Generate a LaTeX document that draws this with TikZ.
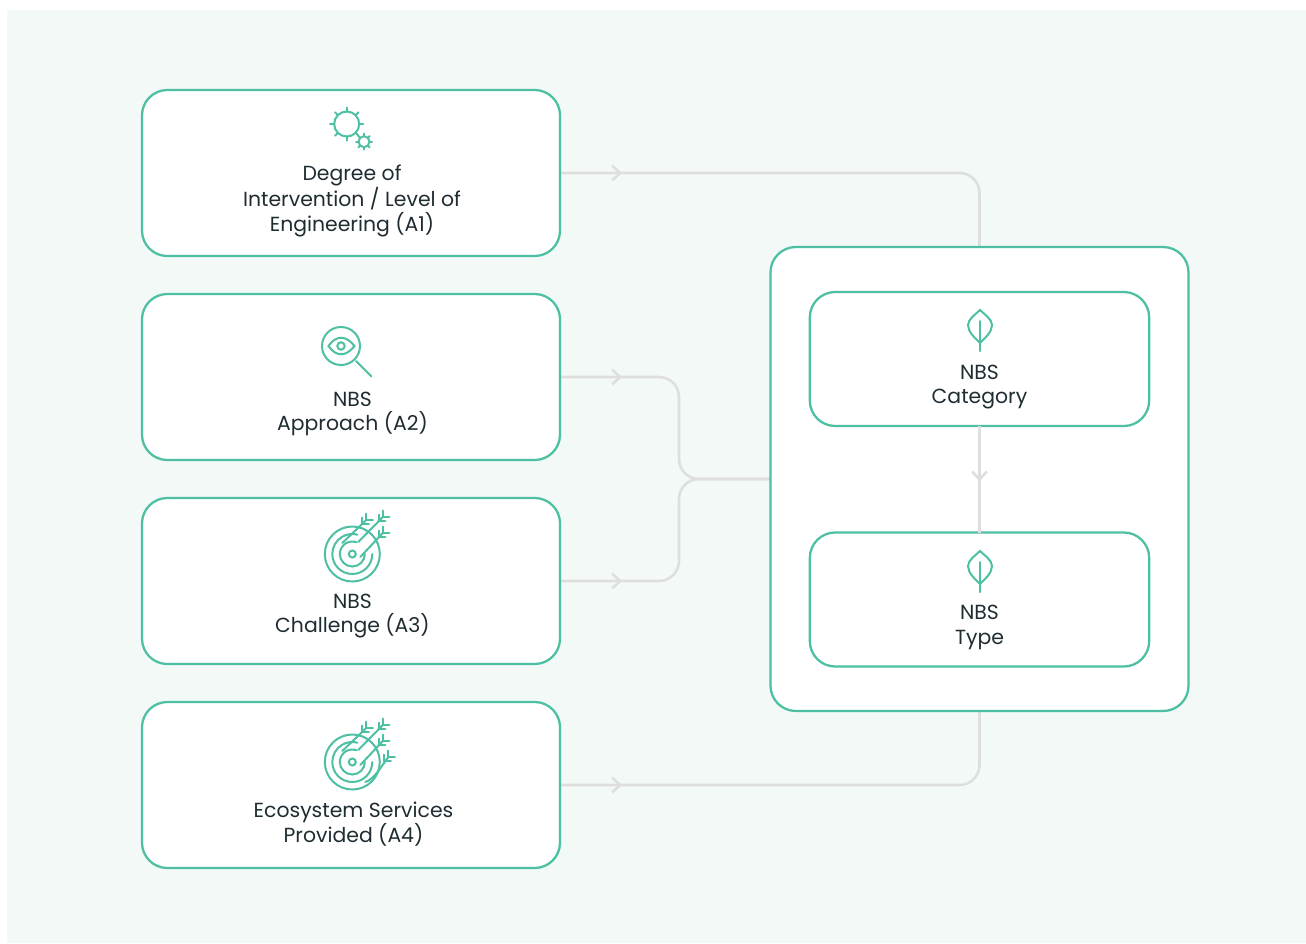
\documentclass[tikz,border=0pt]{standalone}
\usepackage{fontspec}
\setmainfont{Poppins}
\usetikzlibrary{arrows.meta,decorations.markings}

\definecolor{nbsgreen}{HTML}{4DBFA3}
\definecolor{nbsgray}{HTML}{DEDEDE}
\definecolor{nbspale}{HTML}{F3F9F7}
\definecolor{nbstext}{HTML}{1F2D33}

\newcommand{\dartline}[4]{%
  \draw[iconline] (#1,#2) -- (#3,#4);
  \foreach \d in {0,4} {
    \draw[iconline] ({#3-\d},{#4+\d}) -- +(0,-6.5);
    \draw[iconline] ({#3-\d},{#4+\d}) -- +(6.5,0);
  }
}

\tikzset{
  fieldbox/.style={draw=nbsgreen, fill=white, line width=1.7pt, rounded corners=19pt, outer sep=0pt, inner sep=0pt, minimum width=313.5pt, minimum height=124.5pt},
  groupbox/.style={fieldbox, minimum height=348pt},
  nbsbox/.style={fieldbox, minimum width=254.5pt, minimum height=100.5pt},
  fieldtext/.style={text=nbstext, align=center, font=\fontsize{15.3}{18.5}\selectfont, inner sep=0pt},
  iconline/.style={draw=nbsgreen, line width=1.5pt, line cap=round},
  flow/.style={draw=nbsgray, line width=1.9pt, rounded corners=15pt},
  chevron/.style={postaction={decorate}, decoration={markings, mark=at position #1 with {\arrow[nbsgray, line width=1.9pt]{Straight Barb[length=6pt,width=11pt]}}}},
  pics/leaficon/.style={code={
    \draw[iconline] (0,-20) .. controls (-4,-16) and (-12,-11) .. (-12,-5) .. controls (-12,2) and (-5,8) .. (0,13) .. controls (5,8) and (12,2) .. (12,-5) .. controls (12,-11) and (4,-16) .. (0,-20) -- cycle;
    \draw[iconline] (0,-9) -- (0,21);
  }},
  pics/targeticon/.style={code={
    \draw[iconline] (0,0) circle[radius=27.5];
    \draw[iconline] (20,0) arc[start angle=0, end angle=285, radius=20];
    \draw[iconline] (12.5,0) arc[start angle=0, end angle=290, radius=12.5];
    \draw[iconline] (0,0) circle[radius=3.5];
    \dartline{-10}{-11}{14}{-34}
    \dartline{6}{-12}{30.5}{-37}
    \dartline{8}{3}{30.5}{-21}
  }},
}

\begin{document}
\begin{tikzpicture}[x=0.75pt,y=-0.75pt]
\useasboundingbox (0,0) rectangle (1306,943);
\fill[nbspale] (7,10) rectangle (1306,943);

\coordinate (junction) at (679,479);

% connectors first, boxes sit on top
\path (351,173) node[fieldbox,draw=none,fill=none] (degree) {}
      (351,377) node[fieldbox,draw=none,fill=none] (approach) {}
      (351,581) node[fieldbox,draw=none,fill=none] (challenge) {}
      (351,785) node[fieldbox,draw=none,fill=none] (services) {}
      (979.5,479) node[groupbox,draw=none,fill=none] (group) {};
\draw[flow, chevron=46.5pt] (degree.east) -| (group.north);
\draw[flow, chevron=46.5pt] (approach.east) -| (junction) -- (group.west);
\draw[flow, chevron=46.5pt] (challenge.east) -| (junction) -- (group.west);
\draw[flow, chevron=46.5pt] (services.east) -| (group.south);

\node[fieldbox] at (degree) {};
\node[fieldbox] at (approach) {};
\node[fieldbox] at (challenge) {};
\node[fieldbox] at (services) {};
\node[groupbox] at (group) {};
\node[nbsbox] (category) at (979.5,359) {};
\node[nbsbox] (type) at (979.5,599.5) {};
\draw[flow, chevron=0.52] (category.south) -- (type.north);

\node[fieldtext] (degreetext) at (352,201) {Degree of\\Intervention / Level of\\Engineering (A1)};
\node[fieldtext] (approachtext) at (352.5,414) {NBS\\Approach (A2)};
\node[fieldtext] (challengetext) at (352.5,616) {NBS\\Challenge (A3)};
\node[fieldtext] (servicestext) at (353.5,824) {Ecosystem Services\\Provided (A4)};
\node[fieldtext] (categorytext) at (979.5,387) {NBS\\Category};
\node[fieldtext] (typetext) at (979.5,627.5) {NBS\\Type};

% gears
\draw[iconline] (346.7,124) circle[radius=12.5];
\foreach \a in {0,45,...,315} \draw[iconline] (346.7,124) ++(\a:12.5) -- ++(\a:4);
\draw[iconline] (364,141.7) circle[radius=5.5];
\foreach \a in {0,45,...,315} \draw[iconline] (364,141.7) ++(\a:5.5) -- ++(\a:2.5);

% eye
\draw[iconline] (341,346) circle[radius=19];
\draw[iconline] (356,361) -- (371.5,376.5);
\draw[iconline] (328.5,346) .. controls (336,335) and (346,335) .. (354.5,346) .. controls (346,357) and (336,357) .. (328.5,346) -- cycle;
\draw[iconline] (341,346) circle[radius=3.7];

\pic at (352.3,554) {targeticon};
\pic at (352.3,762) {targeticon};
\begin{scope}[shift={(352.3,762)}]
\draw[iconline] (13,20) .. controls (22,17) and (28,6) .. (36,-5);
\foreach \d in {0,4} {
  \draw[iconline] ({36-\d},{-5+\d}) -- +(0,-6.5);
  \draw[iconline] ({36-\d},{-5+\d}) -- +(6.5,0);
}
\end{scope}

\pic at (980,330) {leaficon};
\pic at (980,571) {leaficon};
\end{tikzpicture}
\end{document}
